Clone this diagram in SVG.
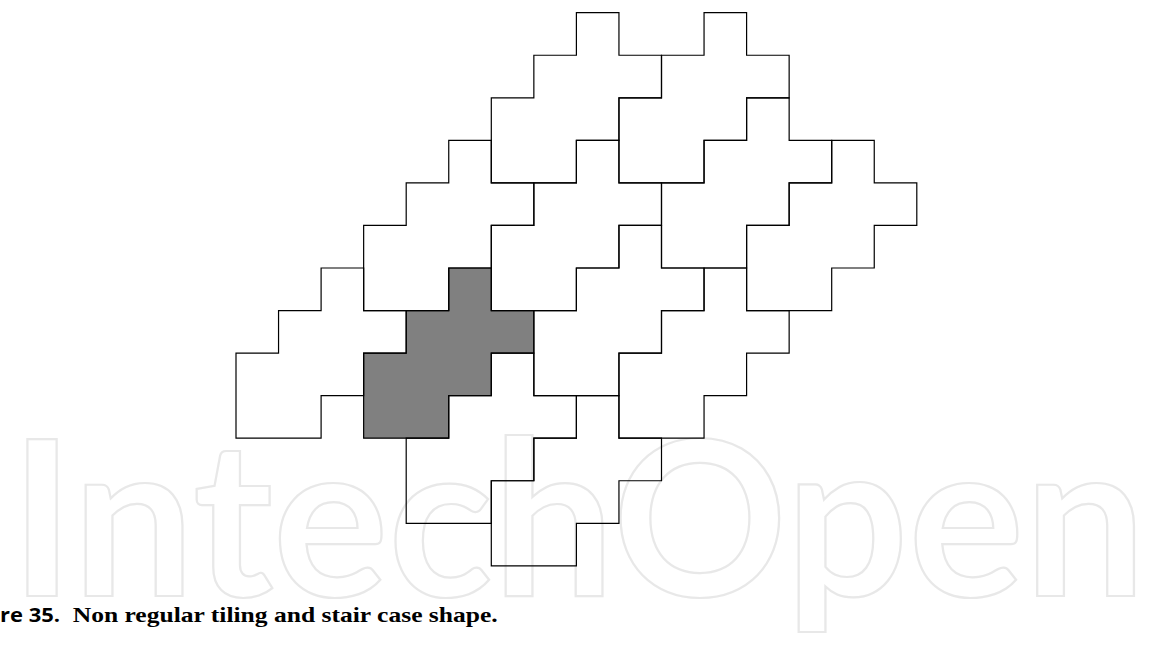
<svg xmlns="http://www.w3.org/2000/svg" xmlns:xlink="http://www.w3.org/1999/xlink" width="1149" height="646" viewBox="0 0 1149 646">
  <style>
    .tile { fill: none; stroke: #000; stroke-width: 1.2; }
    .shaded { fill: #808080; stroke: #000; stroke-width: 1.2; }
    .wm { fill: none; stroke: #e8e8e8; stroke-width: 2.2; font-family: Lato, Inter, "Liberation Sans", sans-serif; font-weight: bold; font-size: 216px; }
    .cap-num { font-family: "Open Sans", "Liberation Sans", sans-serif; font-weight: bold; font-size: 20px; fill: #000; }
    .cap { font-family: "Liberation Serif", serif; font-weight: bold; font-size: 22px; fill: #000; }
  </style>
  <defs>
    <path id="stair" d="M0,0H42.55V42.55H85.1V85.1H42.55V127.65H0V170.2H-85.1V85.1H-42.55V42.55H0Z"/>
  </defs>
  <rect width="1149" height="646" fill="#fff"/>
  <g id="watermark">
    <text class="wm" x="10" y="596" textLength="1136" lengthAdjust="spacingAndGlyphs">IntechOpen</text>
  </g>
  <g id="tiles">
    <g id="tile-G"><use xlink:href="#stair" class="shaded" x="448.75" y="268"/></g>
    <g id="tile-A"><use xlink:href="#stair" class="tile" x="576.4" y="12.7"/></g>
    <g id="tile-B"><use xlink:href="#stair" class="tile" x="704.05" y="12.7"/></g>
    <g id="tile-U"><use xlink:href="#stair" class="tile" x="448.75" y="140.35"/></g>
    <g id="tile-E"><use xlink:href="#stair" class="tile" x="576.4" y="140.35"/></g>
    <g id="tile-C"><use xlink:href="#stair" class="tile" x="746.6" y="97.8"/></g>
    <g id="tile-D"><use xlink:href="#stair" class="tile" x="831.7" y="140.35"/></g>
    <g id="tile-L"><use xlink:href="#stair" class="tile" x="321.1" y="268"/></g>
    <g id="tile-F"><use xlink:href="#stair" class="tile" x="618.95" y="225.45"/></g>
    <g id="tile-H"><use xlink:href="#stair" class="tile" x="704.05" y="268"/></g>
    <g id="tile-I"><use xlink:href="#stair" class="tile" x="491.3" y="353.1"/></g>
    <g id="tile-J"><use xlink:href="#stair" class="tile" x="576.4" y="395.65"/></g>
  </g>
  <g id="caption">
    <text class="cap-num" x="0" y="621.7" textLength="60" lengthAdjust="spacingAndGlyphs">re 35.</text>
    <text class="cap" x="72.7" y="621.7" textLength="425" lengthAdjust="spacingAndGlyphs">Non regular tiling and stair case shape.</text>
  </g>
</svg>
